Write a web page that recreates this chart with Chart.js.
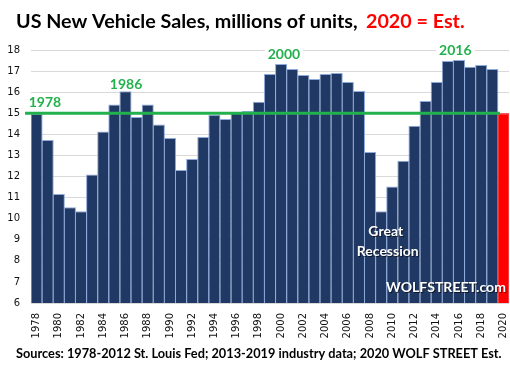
<!DOCTYPE html>
<html>
<head>
<meta charset="utf-8">
<script src="https://cdn.jsdelivr.net/npm/chart.js@4/dist/chart.umd.min.js"></script>
<style>
  html, body { margin: 0; padding: 0; background: #fff; }
  #wrap { width: 510px; height: 373px; }
</style>
</head>
<body>
<div id="wrap"><canvas id="sales-chart" width="510" height="373"></canvas></div>
<script>
// US new vehicle sales, millions of units (2020 = estimate)
const years = ['1978', '1979', '1980', '1981', '1982', '1983', '1984', '1985', '1986', '1987',
  '1988', '1989', '1990', '1991', '1992', '1993', '1994', '1995', '1996', '1997',
  '1998', '1999', '2000', '2001', '2002', '2003', '2004', '2005', '2006', '2007',
  '2008', '2009', '2010', '2011', '2012', '2013', '2014', '2015', '2016', '2017',
  '2018', '2019', '2020'];
const sales = [14.98, 13.73, 11.17, 10.54, 10.35, 12.10, 14.14, 15.42, 16.04, 14.82,
  15.42, 14.47, 13.83, 12.31, 12.83, 13.87, 14.93, 14.73, 15.06, 15.11,
  15.54, 16.86, 17.34, 17.10, 16.82, 16.63, 16.86, 16.91, 16.48, 16.06,
  13.16, 10.35, 11.53, 12.75, 14.41, 15.58, 16.48, 17.48, 17.53, 17.20,
  17.29, 17.10, 15.00];
const estimateYear = '2020';
const yMin = 6;
const yMax = 18;
const markerLevel = 15;
const peakYears = ['1978', '1986', '2000', '2016'];

const navy = '#203864';
const edge = '#8faadc';
const red = '#ff0000';
const green = '#22b14c';
const grid = '#d9d9d9';

const barColors = years.map(yr => yr === estimateYear ? red : navy);
const barEdges = years.map(yr => yr === estimateYear ? red : edge);

// where each peak label sits: offset in bars, and level on the y scale
const peakSpots = {
  '1978': { dx: 0.75, at: 15.5 },
  '1986': { dx: 0.05, at: 16.36 },
  '2000': { dx: 0.25, at: 17.78 },
  '2016': { dx: -0.33, at: 17.97 },
};

function fitFont(ctx, text, width, weight, family) {
  ctx.font = weight + ' 20px ' + family;
  const size = 20 * width / ctx.measureText(text).width;
  ctx.font = weight + ' ' + size.toFixed(2) + 'px ' + family;
  return size;
}

const annotate = {
  id: 'annotate',
  afterDatasetsDraw(chart) {
    const { ctx, chartArea, scales: { x, y } } = chart;
    const step = x.getPixelForValue(1) - x.getPixelForValue(0);
    const yLine = y.getPixelForValue(markerLevel);
    ctx.save();

    // green reference line at the 1978 level
    ctx.strokeStyle = green;
    ctx.lineWidth = 3;
    ctx.beginPath();
    ctx.moveTo(chartArea.left - 6, yLine);
    ctx.lineTo(x.getPixelForValue(years.indexOf(estimateYear)) - step / 2 + 2, yLine);
    ctx.stroke();

    // peak year labels
    ctx.font = 'bold 14px Lato';
    ctx.textAlign = 'center';
    ctx.textBaseline = 'middle';
    peakYears.forEach(yr => {
      const spot = peakSpots[yr];
      const cx = x.getPixelForValue(years.indexOf(yr)) + spot.dx * step;
      const cy = y.getPixelForValue(spot.at);
      const w = ctx.measureText(yr).width;
      ctx.fillStyle = '#fff';
      ctx.fillRect(cx - w / 2 - 3, cy - 6, w + 6, 12);
      ctx.fillStyle = green;
      ctx.fillText(yr, cx, cy);
    });

    // white notes inside the bars
    ctx.fillStyle = '#fff';
    ctx.shadowColor = 'rgba(0,0,0,0.6)';
    ctx.shadowOffsetX = 1;
    ctx.shadowOffsetY = 1;
    const gx = x.getPixelForValue(years.indexOf('2009')) + step * 0.5;
    ctx.font = 'bold 14px Lato';
    ctx.fillText('Great', gx - 1, y.getPixelForValue(9.38));
    ctx.fillText('Recession', gx + 1, y.getPixelForValue(8.43));
    ctx.textAlign = 'right';
    fitFont(ctx, 'WOLFSTREET.com', 120, 'bold', 'Lato');
    ctx.fillText('WOLFSTREET.com', chartArea.right - 3, y.getPixelForValue(6.73));
    ctx.restore();
  },
  afterDraw(chart) {
    const { ctx } = chart;
    ctx.save();
    ctx.textAlign = 'left';
    ctx.textBaseline = 'alphabetic';
    const head = 'US New Vehicle Sales, millions of units,';
    fitFont(ctx, head, 342, 'bold', 'Lato');
    ctx.fillStyle = '#000';
    ctx.fillText(head, 16, 28);
    ctx.fillStyle = red;
    ctx.fillText('2020 = Est.', 366, 28);

    const source = 'Sources: 1978-2012 St. Louis Fed; 2013-2019 industry data; 2020 WOLF STREET Est.';
    fitFont(ctx, source, 486, 'bold', 'Lato');
    ctx.fillStyle = '#000';
    ctx.fillText(source, 16, 358);
    ctx.restore();
  }
};

const salesChart = new Chart(document.getElementById('sales-chart'), {
  type: 'bar',
  data: {
    labels: years,
    datasets: [{
      data: sales,
      backgroundColor: barColors,
      borderColor: barEdges,
      borderWidth: 1,
      barPercentage: 1.09,
      categoryPercentage: 1,
    }]
  },
  options: {
    responsive: false,
    animation: false,
    events: [],
    layout: { padding: { top: 50, right: 1, left: 0, bottom: 0 } },
    plugins: {
      legend: { display: false },
      tooltip: { enabled: false },
    },
    scales: {
      x: {
        grid: { display: false, drawTicks: false },
        border: { display: false },
        ticks: {
          autoSkip: false,
          minRotation: 90,
          maxRotation: 90,
          padding: 10,
          color: '#111',
          font: { family: 'DejaVu Sans', size: 10 },
          callback: (val, i) => i % 2 === 0 ? years[i] : '',
        },
        afterFit: (scale) => {
          scale.height = 70;
          scale.paddingLeft = 0;
          scale.paddingRight = 0;
        },
      },
      y: {
        min: yMin,
        max: yMax,
        grid: { color: grid, drawTicks: false },
        border: { display: false },
        ticks: {
          stepSize: 1,
          padding: 11,
          color: '#111',
          font: { family: 'DejaVu Sans', size: 10 },
        },
        afterFit: (scale) => { scale.width = 31; },
      },
    },
  },
  plugins: [annotate],
});
</script>
</body>
</html>
